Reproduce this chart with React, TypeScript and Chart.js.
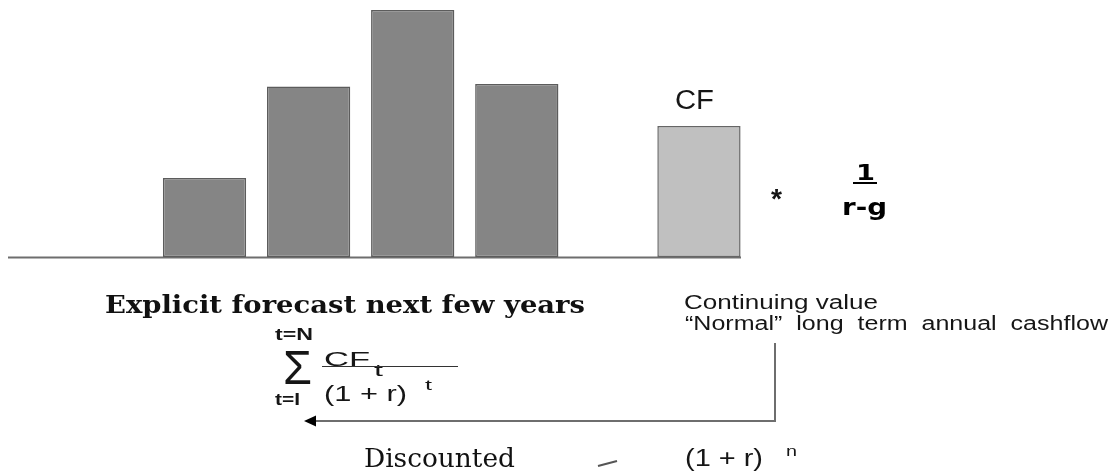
import React, { useEffect, useRef } from "react";
import { Chart, registerables } from "chart.js";

Chart.register(...registerables);

// Cash flows: four explicit forecast years followed by the normal long-term cash flow
const periodPositions = [1, 2, 3, 4, 5.75];
const cashFlows = [32, 69, 100, 70, 53];
const barFills = ["#858585", "#858585", "#858585", "#858585", "#c0c0c0"];
const barBorders = ["#5c5c5c", "#5c5c5c", "#5c5c5c", "#5c5c5c", "#666666"];
const xRange = [-0.888, 6.154];
const yRange = [0, 100];

const cfLabel = "CF";
const explicitLabel = "Explicit forecast next few years";
const continuingLines = ["Continuing value", "\u201CNormal\u201D  long  term  annual  cashflow"];
const discountedLabel = "Discounted";

const W = 1114;
const H = 472;

type Ctx = CanvasRenderingContext2D;

// Draws a text run stretched horizontally so it spans the given width
function drawFit(ctx: Ctx, text: string, font: string, left: number, baseline: number, width: number, color = "#161616") {
  ctx.save();
  ctx.font = font;
  ctx.fillStyle = color;
  ctx.textAlign = "left";
  ctx.textBaseline = "alphabetic";
  const m = ctx.measureText(text).width || 1;
  ctx.translate(left, baseline);
  ctx.scale(width / m, 1);
  ctx.fillText(text, 0, 0);
  ctx.restore();
}

function line(ctx: Ctx, pts: number[][], color: string, w: number) {
  ctx.save();
  ctx.strokeStyle = color;
  ctx.lineWidth = w;
  ctx.beginPath();
  ctx.moveTo(pts[0][0], pts[0][1]);
  for (let i = 1; i < pts.length; i++) ctx.lineTo(pts[i][0], pts[i][1]);
  ctx.stroke();
  ctx.restore();
}

const baselinePlugin = {
  id: "baseline",
  beforeDatasetsDraw(chart: any) {
    const { ctx, chartArea, scales } = chart;
    const y = Math.round(scales.y.getPixelForValue(0)) + 0.5;
    line(ctx, [[chartArea.left, y], [chartArea.right, y]], "#6e6e6e", 2);
  },
};

const annotationPlugin = {
  id: "annotations",
  afterDatasetsDraw(chart: any) {
    const { ctx } = chart;
    const meta = chart.getDatasetMeta(0);
    const cfBar = meta.data[meta.data.length - 1];
    const sans = "'Liberation Sans', Arial, sans-serif";
    const sansBold = "'DejaVu Sans', Verdana, sans-serif";
    const serif = "'DejaVu Serif', serif";

    // label over the continuing-value bar
    drawFit(ctx, cfLabel, `27px ${sans}`, cfBar.x - 24, cfBar.y - 17, 39);

    drawFit(ctx, explicitLabel, `bold 25px ${serif}`, 105, 313, 480, "#111");
    drawFit(ctx, continuingLines[0], `20px ${sans}`, 684, 309, 194);
    drawFit(ctx, continuingLines[1], `20px ${sans}`, 685, 330, 423);

    // sum of discounted explicit cash flows
    drawFit(ctx, "t=N", `bold 16px ${sans}`, 275, 340, 38);
    drawFit(ctx, "\u03A3", `48px ${sans}`, 283, 384, 29);
    drawFit(ctx, "t=I", `bold 16px ${sans}`, 275, 405, 25);
    drawFit(ctx, "CF", `20px ${sans}`, 324, 366, 46);
    drawFit(ctx, "t", `16px ${sans}`, 374, 376, 9);
    line(ctx, [[322, 366.5], [458, 366.5]], "#333", 1);
    drawFit(ctx, "(1 + r)", `22px ${sans}`, 324, 401, 83);
    drawFit(ctx, "t", `15px ${sans}`, 425, 390, 7);

    // terminal multiplier
    drawFit(ctx, "*", `bold 28px ${sans}`, 771, 208, 11);
    drawFit(ctx, "1", `bold 22px ${sansBold}`, 856, 180, 19, "#000");
    line(ctx, [[853, 183], [877, 183]], "#000", 2);
    drawFit(ctx, "r-g", `bold 23px ${sansBold}`, 842, 215, 45, "#000");

    // connector from continuing value back to the present
    line(ctx, [[775, 343], [775, 421], [312, 421]], "#6e6e6e", 2);
    ctx.save();
    ctx.fillStyle = "#000";
    ctx.beginPath();
    ctx.moveTo(304, 421);
    ctx.lineTo(316, 415.5);
    ctx.lineTo(316, 426.5);
    ctx.closePath();
    ctx.fill();
    ctx.restore();

    drawFit(ctx, discountedLabel, `26px ${serif}`, 364, 467, 151, "#111");
    line(ctx, [[598, 466], [617, 461]], "#555", 2);
    drawFit(ctx, "(1 + r)", `23px ${sans}`, 685, 466, 78);
    drawFit(ctx, "n", `15px ${sans}`, 786, 456, 11);
  },
};

export default function App() {
  const canvasRef = useRef<HTMLCanvasElement | null>(null);

  useEffect(() => {
    const canvas = canvasRef.current;
    if (!canvas) return;
    const chart = new Chart(canvas, {
      type: "bar",
      data: {
        datasets: [
          {
            data: periodPositions.map((x, i) => ({ x, y: cashFlows[i] })),
            backgroundColor: barFills,
            borderColor: barBorders,
            borderWidth: 1.5,
            borderSkipped: false,
            categoryPercentage: 1,
            barPercentage: 0.8,
          },
        ],
      },
      options: {
        responsive: false,
        animation: false,
        events: [],
        layout: { padding: { left: 8, right: W - 741, top: 10, bottom: H - 257 } },
        plugins: { legend: { display: false }, tooltip: { enabled: false }, title: { display: false } },
        scales: {
          x: {
            type: "linear",
            display: false,
            offset: false,
            min: xRange[0],
            max: xRange[1],
            afterBuildTicks: (scale: any) => {
              scale.ticks = [];
            },
          },
          y: { display: false, min: yRange[0], max: yRange[1] },
        },
      },
      plugins: [baselinePlugin, annotationPlugin],
    });
    return () => chart.destroy();
  }, []);

  return (
    <canvas
      ref={canvasRef}
      width={W}
      height={H}
      style={{ position: "fixed", left: 0, top: 0, width: W, height: H, background: "#fff" }}
    />
  );
}
